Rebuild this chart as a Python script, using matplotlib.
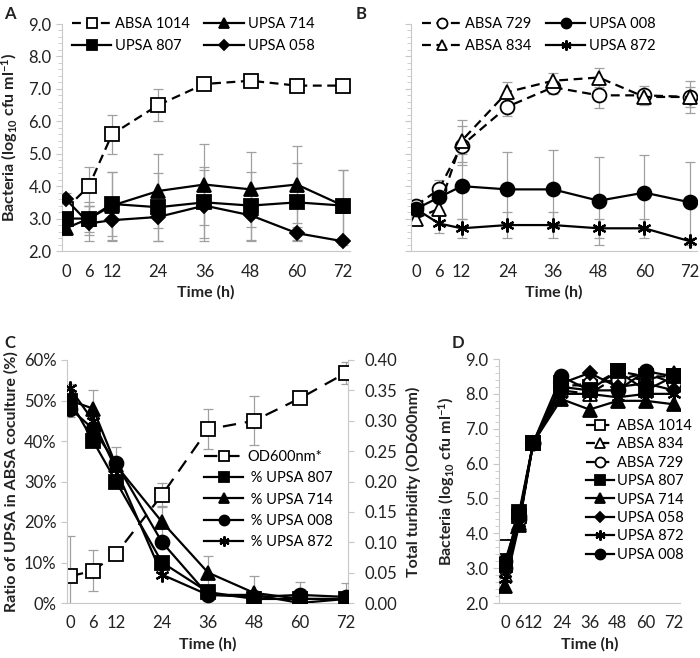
import matplotlib
matplotlib.use("Agg")
import matplotlib.pyplot as plt
import numpy as np

plt.rcParams['font.family'] = ['Lato', 'DejaVu Sans']
plt.rcParams['mathtext.fontset'] = 'custom'
plt.rcParams['mathtext.rm'] = 'Lato'
plt.rcParams['mathtext.bf'] = 'Lato:bold'
plt.rcParams['mathtext.default'] = 'bf'

# time points (h)
hours = [0, 6, 12, 24, 36, 48, 60, 72]

# panel A (log10 cfu/ml)
a_absa1014 = [3.3, 4.0, 5.6, 6.5, 7.15, 7.25, 7.1, 7.1]
a_absa1014_err = [0.2, 0.6, 0.6, 0.5, 0.15, 0.1, 0.1, 0.15]
a_upsa714 = [2.7, 3.0, 3.4, 3.85, 4.05, 3.9, 4.05, 3.4]
a_upsa714_err = [0.2, 0.5, 1.05, 1.15, 1.25, 1.15, 1.2, 1.1]
a_upsa807 = [3.0, 3.0, 3.45, 3.35, 3.5, 3.4, 3.5, 3.4]
a_upsa807_err = [0.2, 0.4, 1.0, 1.05, 1.1, 1.05, 1.2, 1.1]
a_upsa058 = [3.6, 2.85, 2.95, 3.05, 3.4, 3.1, 2.55, 2.3]
a_upsa058_err = [0.2, 0.55, 0.65, 0.75, 1.1, 0.8, 0.2, 0.1]

# panel B
b_absa729 = [3.4, 3.9, 5.25, 6.45, 7.05, 6.8, 6.8, 6.75]
b_absa729_err = [0.15, 0.3, 0.6, 0.3, 0.2, 0.4, 0.3, 0.3]
b_absa834 = [3.0, 3.3, 5.4, 6.9, 7.25, 7.35, 6.75, 6.75]
b_absa834_err = [0.15, 0.5, 0.65, 0.3, 0.25, 0.3, 0.2, 0.5]
b_upsa008 = [3.3, 3.65, 4.0, 3.9, 3.9, 3.55, 3.8, 3.5]
b_upsa008_err = [0.15, 0.4, 1.0, 1.15, 1.2, 1.35, 1.15, 1.25]
b_upsa872 = [3.3, 2.85, 2.7, 2.8, 2.8, 2.7, 2.7, 2.3]
b_upsa872_err = [0.15, 0.3, 0.3, 0.4, 0.4, 0.3, 0.3, 0.1]

# panel C
c_od600 = [0.044, 0.053, 0.081, 0.178, 0.286, 0.30, 0.337, 0.379]
c_od600_err = [0.066, 0.034, 0.01, 0.02, 0.033, 0.04, 0.008, 0.018]
c_upsa807 = [50, 40, 30, 10, 2.7, 1, 1, 1]
c_upsa714 = [50, 48, 34, 20, 7.5, 2.5, 1, 1]
c_upsa714_err = [4, 4.6, 4.5, 4, 4, 4.2, 4.3, 4]
c_upsa008 = [48, 43, 34.5, 15, 2, 1.5, 2, 1.5]
c_upsa872 = [53, 45, 33, 7, 2, 2, 0, 1]
pct_ticks = [0, 10, 20, 30, 40, 50, 60]
od_ticks = [0.0, 0.05, 0.10, 0.15, 0.20, 0.25, 0.30, 0.35, 0.40]

# panel D
d_absa1014 = [3.6, 4.5, 6.6, 8.3, 8.2, 8.65, 8.5, 8.5]
d_absa834 = [2.8, 4.3, 6.6, 8.1, 8.0, 8.5, 8.4, 8.6]
d_absa729 = [3.0, 4.4, 6.6, 8.2, 8.3, 8.4, 8.6, 8.3]
d_upsa807 = [3.1, 4.6, 6.6, 8.2, 8.1, 8.65, 8.1, 8.5]
d_upsa714 = [2.5, 4.25, 6.6, 7.85, 7.55, 7.8, 7.8, 7.7]
d_upsa058 = [3.0, 4.4, 6.6, 8.3, 8.6, 8.2, 8.3, 8.1]
d_upsa872 = [2.7, 4.3, 6.6, 8.0, 8.0, 7.9, 8.0, 8.0]
d_upsa008 = [3.2, 4.5, 6.6, 8.5, 8.1, 8.1, 8.65, 8.5]

log_ticks = [2, 3, 4, 5, 6, 7, 8, 9]

ERR = '#a0a0a0'
SPINE = '#c8c8c8'
TXT = '#222222'
STAR = (6, 2, 0)
DASH = (0, (4, 2.5))

styles = {
    'sq_open': dict(marker='s', mfc='white', mec='black', ls=DASH),
    'tri_open': dict(marker='^', mfc='white', mec='black', ls=DASH),
    'circ_open': dict(marker='o', mfc='white', mec='black', ls=DASH),
    'sq': dict(marker='s', mfc='black', mec='black', ls='-'),
    'tri': dict(marker='^', mfc='black', mec='black', ls='-'),
    'dia': dict(marker='D', mfc='black', mec='black', ls='-'),
    'circ': dict(marker='o', mfc='black', mec='black', ls='-'),
    'star': dict(marker=STAR, mfc='black', mec='black', ls='-'),
}


def series(ax, x, y, err, label, style, ms=10, zo=3):
    if err is not None:
        ax.errorbar(x, y, yerr=err, fmt='none', ecolor=ERR, elinewidth=0.9,
                    capsize=3.5, capthick=0.9, zorder=1)
    st = dict(styles[style])
    mew = 1.3
    if style == 'dia':
        ms = ms * 0.75
    if style == 'star':
        mew = 1.6
    return ax.plot(x, y, color='black', lw=1.6, ms=ms, mew=mew,
                   label=label, zorder=zo, **st)[0]


def style_axes(ax, labels=True):
    for s in ['top', 'right']:
        ax.spines[s].set_visible(False)
    ax.spines['left'].set_color(SPINE)
    ax.spines['bottom'].set_color(SPINE)
    ax.tick_params(axis='x', length=0, pad=9, labelsize=12, colors=TXT)
    ax.tick_params(axis='y', which='both', direction='out', color=SPINE,
                   labelsize=12, labelcolor=TXT)
    ax.tick_params(axis='y', which='major', length=4)
    ax.tick_params(axis='y', which='minor', length=3)
    ax.set_xticks(hours)


fig = plt.figure(figsize=(7, 6.58), dpi=100)
W, H = 700.0, 658.0


def add_ax(l, r, t, b):
    return fig.add_axes([l / W, 1 - b / H, (r - l) / W, (b - t) / H])


leg_kw = dict(frameon=False, borderaxespad=0, borderpad=0, fontsize=10.5,
              handletextpad=0.25, markerscale=0.72, bbox_transform=fig.transFigure)

# ---- A
axA = add_ax(62, 350, 24, 251)
hA1 = series(axA, hours, a_absa1014, a_absa1014_err, 'ABSA 1014', 'sq_open', zo=2)
hA2 = series(axA, hours, a_upsa714, a_upsa714_err, 'UPSA 714', 'tri')
hA3 = series(axA, hours, a_upsa807, a_upsa807_err, 'UPSA 807', 'sq')
hA4 = series(axA, hours, a_upsa058, a_upsa058_err, 'UPSA 058', 'dia')
style_axes(axA)
axA.set_xlim(-1.0, 73.8)
axA.set_ylim(2, 9)
axA.set_yticks(log_ticks)
axA.set_yticklabels(['%.1f' % v for v in log_ticks])
axA.set_yticks(np.arange(2, 9.01, 0.2), minor=True)
axA.set_ylabel('Bacteria (log$_{10}$ cfu ml$^{-1}$)', fontsize=11.5,
               fontweight='bold', color=TXT, labelpad=6)
axA.set_xlabel('Time (h)', fontsize=11.5, fontweight='bold', color=TXT, labelpad=4)
axA.legend([hA1, hA3, hA2, hA4], ['ABSA 1014', 'UPSA 807', 'UPSA 714', 'UPSA 058'],
           ncol=2, loc='upper left', bbox_to_anchor=(72 / W, 1 - 17 / H),
           handlelength=2.7, columnspacing=1.0, labelspacing=0.55, **leg_kw)

# ---- B
axB = add_ax(411, 697, 24, 251)
hB1 = series(axB, hours, b_absa729, b_absa729_err, 'ABSA 729', 'circ_open', zo=2)
hB2 = series(axB, hours, b_absa834, b_absa834_err, 'ABSA 834', 'tri_open', zo=2)
hB3 = series(axB, hours, b_upsa008, b_upsa008_err, 'UPSA 008', 'circ')
hB4 = series(axB, hours, b_upsa872, b_upsa872_err, 'UPSA 872', 'star')
style_axes(axB)
axB.set_xlim(-1.3, 73.8)
axB.set_ylim(2, 9)
axB.set_yticks(log_ticks)
axB.set_yticklabels([])
axB.set_yticks(np.arange(2, 9.01, 0.2), minor=True)
axB.set_xlabel('Time (h)', fontsize=11.5, fontweight='bold', color=TXT, labelpad=4)
axB.legend([hB1, hB2, hB3, hB4], ['ABSA 729', 'ABSA 834', 'UPSA 008', 'UPSA 872'],
           ncol=2, loc='upper left', bbox_to_anchor=(422 / W, 1 - 17 / H),
           handlelength=2.7, columnspacing=1.0, labelspacing=0.55, **leg_kw)

# ---- C
axC = add_ax(67, 348, 360, 603)
axC2 = axC.twinx()
hC1 = series(axC2, hours, c_od600, c_od600_err, 'OD600nm*', 'sq_open', zo=4)
hC1.set_linestyle((0, (6, 4)))
hC2 = series(axC, hours, c_upsa807, None, ' % UPSA 807', 'sq')
hC3 = series(axC, hours, c_upsa714, c_upsa714_err, ' % UPSA 714', 'tri')
hC4 = series(axC, hours, c_upsa008, None, ' % UPSA 008', 'circ')
hC5 = series(axC, hours, c_upsa872, None, ' % UPSA 872', 'star')
style_axes(axC)
axC.set_xlim(-0.8, 72.5)
axC.set_ylim(0, 60)
axC.set_yticks(pct_ticks)
axC.set_yticklabels(['%d%%' % v for v in pct_ticks])
axC.set_ylabel('Ratio of UPSA in ABSA coculture (%)', fontsize=11.5,
               fontweight='bold', color=TXT, labelpad=4)
axC.set_xlabel('Time (h)', fontsize=11.5, fontweight='bold', color=TXT, labelpad=4)
axC2.set_ylim(0, 0.40)
axC2.set_yticks(od_ticks)
axC2.set_yticklabels(['%.2f' % v for v in od_ticks])
for s in ['top', 'left', 'bottom']:
    axC2.spines[s].set_visible(False)
axC2.spines['right'].set_color(SPINE)
axC2.tick_params(axis='y', direction='out', color=SPINE, length=4,
                 labelsize=12, labelcolor=TXT, pad=8)
axC2.set_ylabel('Total turbidity (OD600nm)', fontsize=11.5, fontweight='bold',
                color=TXT, labelpad=6)
axC.set_zorder(axC2.get_zorder() + 1)
axC.patch.set_visible(False)
axC.legend([hC1, hC2, hC3, hC4, hC5],
           ['OD600nm*', ' % UPSA 807', ' % UPSA 714', ' % UPSA 008', ' % UPSA 872'],
           loc='upper left', bbox_to_anchor=(204 / W, 1 - 450 / H),
           handlelength=2.7, labelspacing=0.5, **leg_kw)

# ---- D
axD = add_ax(499, 680, 359, 603)
hD = []
hD.append(series(axD, hours, d_absa1014, None, 'ABSA 1014', 'sq_open', zo=2))
hD.append(series(axD, hours, d_absa834, None, 'ABSA 834', 'tri_open', zo=2))
hD.append(series(axD, hours, d_absa729, None, 'ABSA 729', 'circ_open', zo=2))
hD.append(series(axD, hours, d_upsa807, None, 'UPSA 807', 'sq'))
hD.append(series(axD, hours, d_upsa714, None, 'UPSA 714', 'tri'))
hD.append(series(axD, hours, d_upsa058, None, 'UPSA 058', 'dia'))
hD.append(series(axD, hours, d_upsa872, None, 'UPSA 872', 'star'))
hD.append(series(axD, hours, d_upsa008, None, 'UPSA 008', 'circ'))
style_axes(axD)
axD.set_xlim(-2.6, 74.6)
axD.set_ylim(2, 9)
axD.set_yticks(log_ticks)
axD.set_yticklabels(['%.1f' % v for v in log_ticks])
axD.set_yticks(np.arange(2, 9.01, 0.2), minor=True)
axD.set_ylabel('Bacteria (log$_{10}$ cfu ml$^{-1}$)', fontsize=11.5,
               fontweight='bold', color=TXT, labelpad=6)
axD.set_xlabel('Time (h)', fontsize=11.5, fontweight='bold', color=TXT, labelpad=4)
axD.legend(hD, [h.get_label() for h in hD], loc='upper left',
           bbox_to_anchor=(586 / W, 1 - 419 / H), handlelength=1.9,
           labelspacing=0.3, **leg_kw)

# panel letters
for txt, x, y in [('A', 4, 14), ('B', 356, 14), ('C', 4, 343), ('D', 452, 343)]:
    fig.text(x / W, 1 - y / H, txt, fontsize=12, fontweight='bold', color=TXT,
             va='center', ha='left')

fig.savefig('out.png', dpi=100)
